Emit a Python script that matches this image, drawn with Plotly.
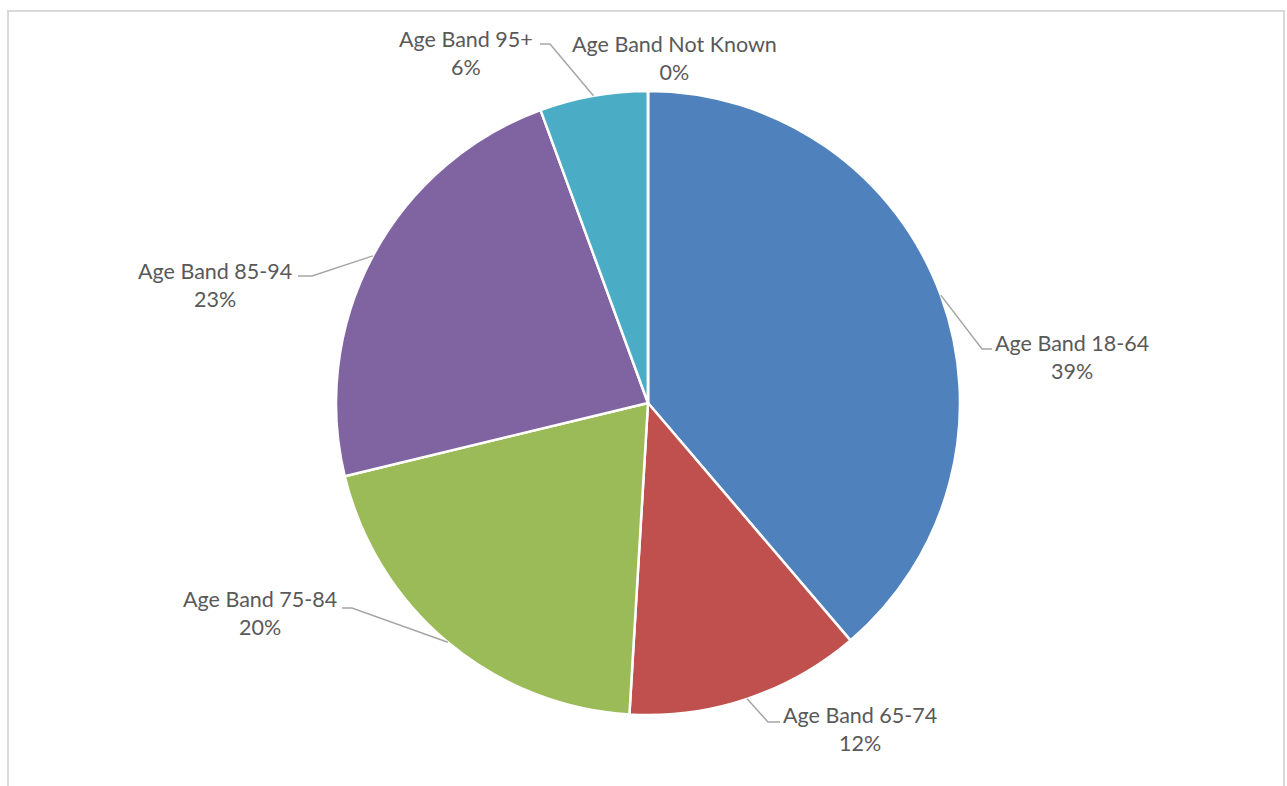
import math
import plotly.graph_objects as go

# Share of people by age band
bands = ["Age Band 18-64", "Age Band 65-74", "Age Band 75-84",
         "Age Band 85-94", "Age Band 95+", "Age Band Not Known"]
shares = [38.8, 12.2, 20.3, 23.2, 5.6, 0.0]
colors = ["#4F81BD", "#C0504D", "#9BBB59", "#8064A2", "#4BACC6", "#F79646"]

W, H = 1287, 786
CX, CY, R = 648, 403, 312          # pie centre and radius in pixels

# label block centres and leader-line elbows (pixels)
label_pos = [(1072, 357), (860, 729), (260, 613), (215, 285), (466, 53), (674, 58)]
elbows = [((982, 349), (992, 349)), ((768, 722), (780, 722)), ((352, 608), (342, 608)),
          ((312, 276), (298, 276)), ((550, 44), (540, 44)), None]


def px(x, y):
    return x / W, 1 - y / H


total = sum(shares)
fig = go.Figure(go.Pie(
    labels=bands, values=shares, sort=False, direction="clockwise", rotation=0,
    marker=dict(colors=colors, line=dict(color="white", width=2.5)),
    textinfo="none", hoverinfo="skip", showlegend=False,
    domain=dict(x=[(CX - R) / W, (CX + R) / W], y=[1 - (CY + R) / H, 1 - (CY - R) / H]),
))

shapes = [dict(type="rect", xref="paper", yref="paper",
               x0=8 / W, x1=1284 / W, y0=-0.05, y1=1 - 11 / H,
               line=dict(color="#D9D9D9", width=2), fillcolor="rgba(0,0,0,0)", layer="below")]
annotations = []

cum = 0.0
for name, v, (lx, ly), elb in zip(bands, shares, label_pos, elbows):
    frac = v / total
    mid = (cum + frac / 2) * 2 * math.pi
    cum += frac
    pct = round(frac * 100)
    annotations.append(dict(
        x=px(lx, ly)[0], y=px(lx, ly)[1], xref="paper", yref="paper",
        text=f"{name}<br>{pct}%", showarrow=False, align="center",
        xanchor="center", yanchor="middle",
        font=dict(family="Lato", size=21.5, color="#595959"),
    ))
    if elb is not None:
        ex, ey = CX + R * math.sin(mid), CY - R * math.cos(mid)
        (bx, by), (tx, ty) = elb
        pts = [px(ex, ey), px(bx, by), px(tx, ty)]
        path = "M {} {} L {} {} L {} {}".format(*[c for p in pts for c in p])
        shapes.append(dict(type="path", xref="paper", yref="paper", path=path,
                           line=dict(color="#A6A6A6", width=1.5)))

fig.update_layout(
    width=W, height=H, margin=dict(l=0, r=0, t=0, b=0),
    paper_bgcolor="white", plot_bgcolor="white",
    shapes=shapes, annotations=annotations,
)

fig.write_html("out.html")
